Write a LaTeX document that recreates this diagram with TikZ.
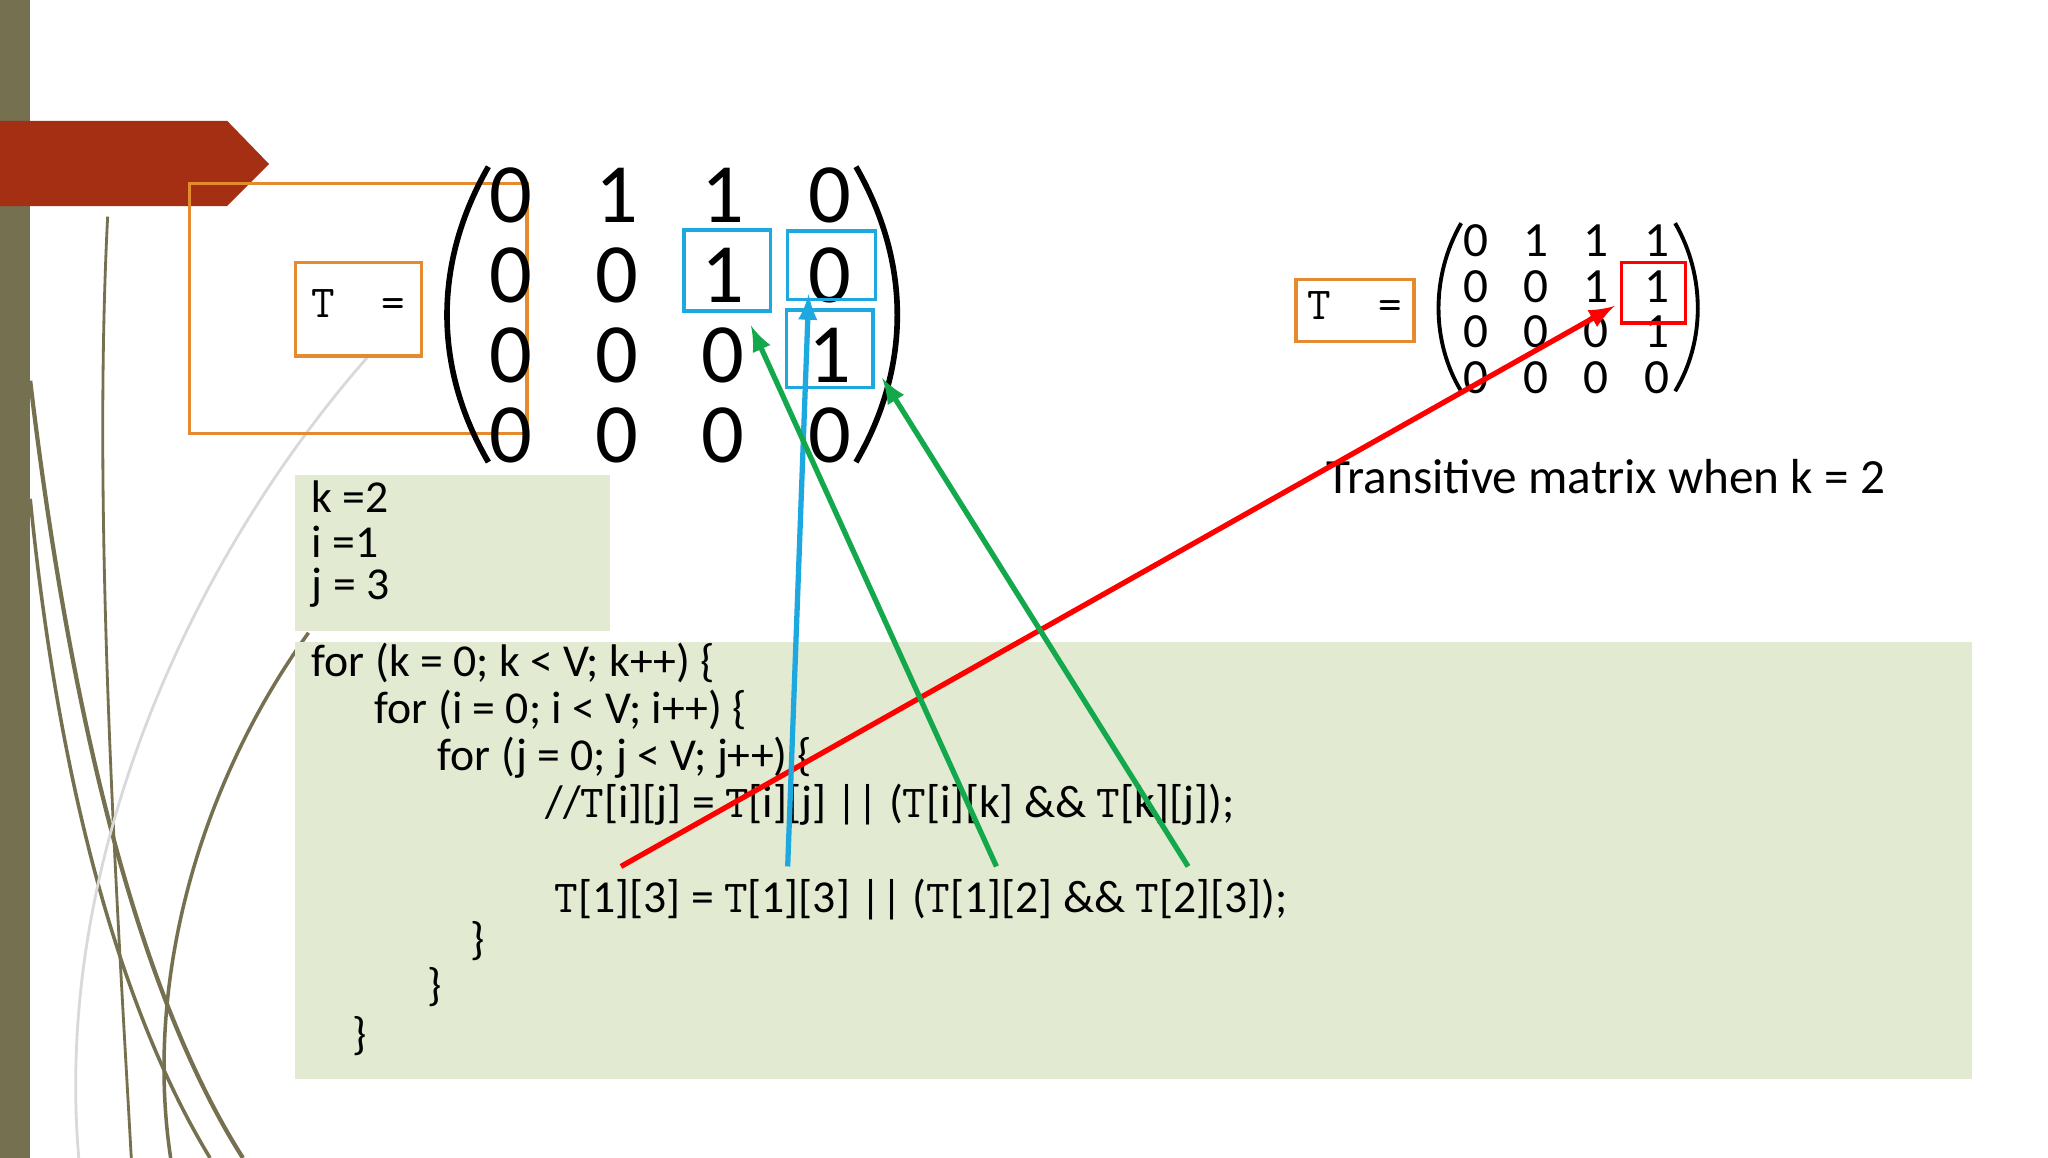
\documentclass[tikz,border=0pt]{standalone}
\usepackage{fontspec}
\setmainfont{Carlito}
\usetikzlibrary{positioning}
\definecolor{olive}{HTML}{75704F}
\definecolor{banner}{HTML}{A52F13}
\definecolor{pale}{HTML}{E3EAD2}
\definecolor{tbox}{HTML}{E48B2F}
\definecolor{cell}{HTML}{1EA8E0}
\definecolor{arrowgreen}{HTML}{14A84C}
\begin{document}
\begin{tikzpicture}[x=0.01313cm,y=-0.01313cm,>=latex,
  codeline/.style={anchor=west,inner sep=0pt,font=\fontsize{13}{15}\selectfont},
  bigentry/.style={inner sep=0pt,font=\fontsize{24}{26}\selectfont\rmfamily},
  smallentry/.style={inner sep=0pt,font=\fontsize{14}{16}\selectfont\rmfamily},
  tlabel/.style={draw=tbox,line width=1pt,font=\ttfamily\fontsize{13}{15}\selectfont},
  cellbox/.style={draw=cell,line width=1pt},
  paren/.style={line width=1.6pt}]
\useasboundingbox (0,0) rectangle (1560,882);
\fill[white] (0,0) rectangle (1560,882);
% decoration
\draw[olive,line width=0.8pt] (82,165) .. controls (70,400) and (90,700) .. (100,882);
\draw[olive,line width=1.2pt] (23,290) .. controls (60,600) and (120,780) .. (185,882);
\draw[olive,line width=1pt] (23,380) .. controls (50,650) and (110,800) .. (160,882);
\draw[gray!30,line width=0.8pt] (280,272) .. controls (150,420) and (40,650) .. (60,882);
\draw[olive,line width=1pt] (235,482) .. controls (150,600) and (110,750) .. (130,882);
\fill[olive] (0,0) rectangle (23,882);
\fill[banner] (0,92) -- (173,92) -- (205,125) -- (173,157) -- (0,157) -- cycle;
% code boxes
\fill[pale] (225,362) rectangle (465,481);
\fill[pale] (225,489) rectangle (1502,822);
\node[codeline] (k) at (237,378) {k =2};
\node[codeline] (i) at (237,413) {i =1};
\node[codeline] (j) at (237,448) {j = 3};
\node[codeline] (l1) at (237,505) {for (k = 0; k < V; k++) \{};
\node[codeline] (l2) at (285,541) {for (i = 0; i < V; i++) \{};
\node[codeline] (l3) at (333,577) {for (j = 0; j < V; j++) \{};
\node[codeline] (l4) at (415,613) {//{\ttfamily T}[i][j] = {\ttfamily T}[i][j] || ({\ttfamily T}[i][k] \&\& {\ttfamily T}[k][j]);};
\node[codeline] (l5) at (422,685) {{\ttfamily T}[1][3] = {\ttfamily T}[1][3] || ({\ttfamily T}[1][2] \&\& {\ttfamily T}[2][3]);};
\node[codeline] (l6) at (358,717) {\}};
\node[codeline] (l7) at (325,752) {\}};
\node[codeline] (l8) at (268,789) {\}};
% first matrix
\node[tlabel,minimum width=96\pgflinewidth,minimum height=71\pgflinewidth] (T1) at (273,235) {};
\draw[tbox,line width=1pt] (225,200) rectangle (321,271);
\node[font=\ttfamily\fontsize{13}{15}\selectfont] (T1eq) at (273,231) {T \ =};
\foreach \r/\row in {1/{0,1,1,0},2/{0,0,1,0},3/{0,0,0,1},4/{0,0,0,0}}
  \foreach \v [count=\c] in \row
    \node[bigentry] (a-\r-\c) at (308+81*\c,88+61*\r) {\v};
\draw[paren] (372,127) .. controls (330,200) and (330,280) .. (372,352);
\draw[paren] (652,127) .. controls (694,200) and (694,280) .. (652,352);
\draw[cellbox] (521,175) rectangle (587,237);
\draw[cellbox] (600,176) rectangle (667,228);
\draw[cellbox] (599,236) rectangle (665,295);
% second matrix
\draw[tbox,line width=1pt] (987,213) rectangle (1077,260);
\node[font=\ttfamily\fontsize{13}{15}\selectfont] (T2eq) at (1032,233) {T \ =};
\foreach \r/\row in {1/{0,1,1,1},2/{0,0,1,1},3/{0,0,0,1},4/{0,0,0,0}}
  \foreach \v [count=\c] in \row
    \node[smallentry] (b-\r-\c) at (1078+46*\c,148+35*\r) {\v};
\draw[line width=1.1pt] (1113,170) .. controls (1090,210) and (1090,260) .. (1113,298);
\draw[line width=1.1pt] (1276,170) .. controls (1299,210) and (1299,260) .. (1276,298);
\draw[red,line width=1pt] (1235,200) rectangle (1284,246);
\node[anchor=west,inner sep=0pt,font=\fontsize{14}{16}\selectfont] (cap) at (1010,363) {Transitive matrix when k = 2};
% arrows
\coordinate (r0) at (473,660);
\coordinate (r1) at (1230,233);
\coordinate (u0) at (600,660);
\coordinate (u1) at (616,224);
\coordinate (g0) at (759,660);
\coordinate (g1) at (572,248);
\coordinate (h0) at (905,660);
\coordinate (h1) at (672,288);
\draw[->,red,line width=1.5pt] (r0) -- (r1);
\draw[->,cell,line width=1.5pt] (u0) -- (u1);
\draw[->,arrowgreen,line width=1.5pt] (g0) -- (g1);
\draw[->,arrowgreen,line width=1.5pt] (h0) -- (h1);
\end{tikzpicture}
\end{document}
